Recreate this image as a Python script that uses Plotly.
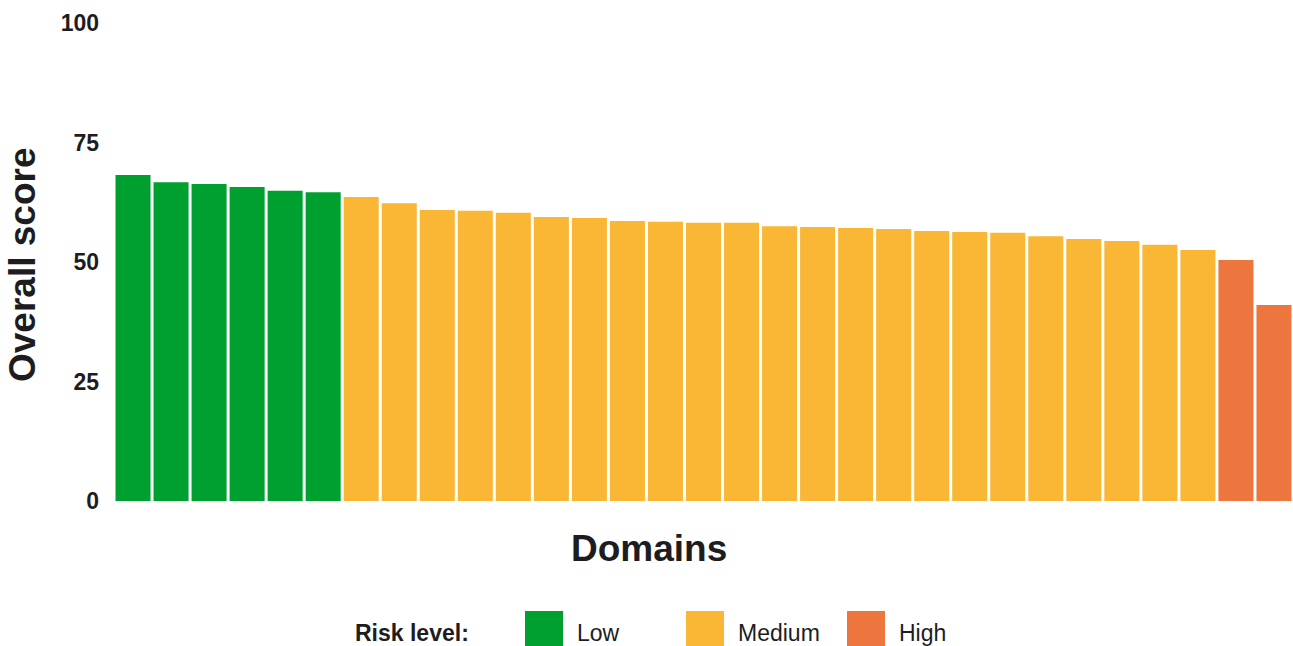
import plotly.graph_objects as go

domains = [f"Domain {i}" for i in range(1, 32)]
scores = [68.2, 66.7, 66.3, 65.7, 64.9, 64.6, 63.6, 62.3, 60.9, 60.7,
          60.3, 59.4, 59.2, 58.6, 58.4, 58.2, 58.2, 57.5, 57.3, 57.1,
          56.9, 56.5, 56.3, 56.1, 55.4, 54.8, 54.4, 53.6, 52.5, 50.4, 41.0]
risk = ["Low"] * 6 + ["Medium"] * 23 + ["High"] * 2
risk_levels = ["Low", "Medium", "High"]
risk_colors = {"Low": "#00a030", "Medium": "#f9b735", "High": "#ec763e"}
y_ticks = [0, 25, 50, 75, 100]

FONT = "Liberation Sans, Arial, Helvetica, sans-serif"
TXT = "#1d1d1f"

W, H = 1293, 646
L, R, T, B = 114, 0, 23, 145
pw, ph = W - L - R, H - T - B

def px(x):
    return (x - L) / pw

def py(y):
    return (H - B - y) / ph

fig = go.Figure()
for lvl in risk_levels:
    xs = [d for d, r in zip(domains, risk) if r == lvl]
    ys = [s for s, r in zip(scores, risk) if r == lvl]
    fig.add_trace(go.Bar(x=xs, y=ys, name=lvl, marker=dict(color=risk_colors[lvl], line=dict(width=0)),
                         showlegend=False))

fig.update_layout(
    width=W, height=H,
    margin=dict(l=L, r=R, t=T, b=B),
    paper_bgcolor="white", plot_bgcolor="white",
    bargap=3 / 38,
    font=dict(family=FONT, color=TXT),
    xaxis=dict(categoryorder="array", categoryarray=domains, showticklabels=False,
               showgrid=False, zeroline=False, showline=False, range=[-0.5, 30.5]),
    yaxis=dict(range=[0, 100], tickvals=y_ticks, showgrid=False, zeroline=False, showline=False,
               tickfont=dict(size=23, family=FONT, color=TXT, weight="bold"),
               ticks="", ticklabelstandoff=14),
)

annotations = [
    dict(text="<b>Overall score</b>", xref="paper", yref="paper", x=px(22), y=py(265),
         textangle=-90, showarrow=False, font=dict(size=37, family=FONT, color=TXT),
         xanchor="center", yanchor="middle"),
    dict(text="<b>Domains</b>", xref="paper", yref="paper", x=px(649), y=py(548),
         showarrow=False, font=dict(size=37, family=FONT, color=TXT),
         xanchor="center", yanchor="middle"),
    dict(text="<b>Risk level:</b>", xref="paper", yref="paper", x=px(471), y=py(633),
         showarrow=False, font=dict(size=23, family=FONT, color=TXT),
         xanchor="right", yanchor="middle"),
]
shapes = []
sq_x = [525, 686, 847]
for lvl, x0 in zip(risk_levels, sq_x):
    shapes.append(dict(type="rect", xref="paper", yref="paper", x0=px(x0), x1=px(x0 + 38),
                       y0=py(611), y1=py(650), fillcolor=risk_colors[lvl], line=dict(width=0)))
    annotations.append(dict(text=lvl, xref="paper", yref="paper", x=px(x0 + 50), y=py(633),
                            showarrow=False, font=dict(size=23, family=FONT, color=TXT),
                            xanchor="left", yanchor="middle"))
fig.update_layout(annotations=annotations, shapes=shapes)

fig.write_html(
    "out.html",
    config={"displayModeBar": False},
    post_script="document.documentElement.style.margin='0';document.documentElement.style.overflow='hidden';"
                "document.body.style.margin='0';document.body.style.padding='0';document.body.style.overflow='hidden';",
)
